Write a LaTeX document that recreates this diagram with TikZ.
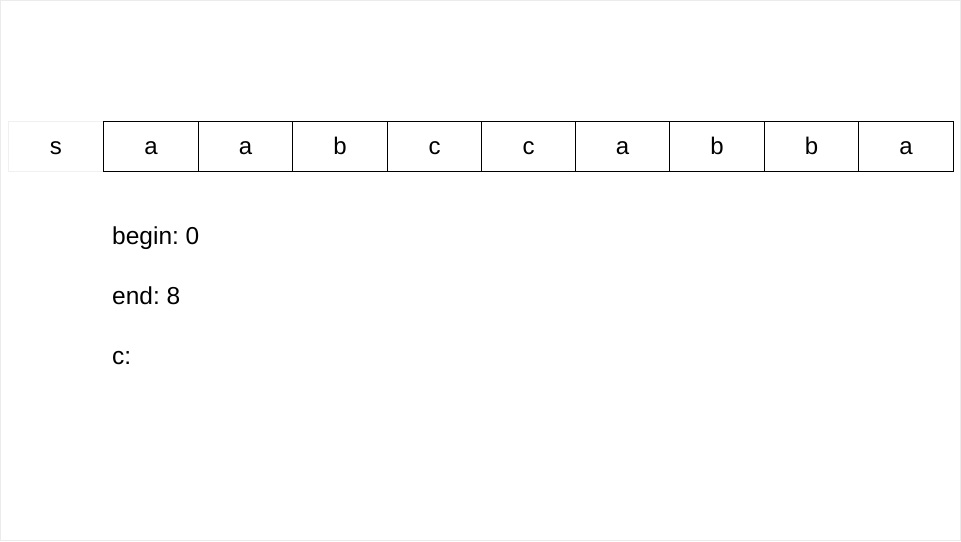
\documentclass[tikz,border=0pt]{standalone}
\usepackage{fontspec}
\setmainfont{Liberation Sans}
\frenchspacing
\begin{document}
\begin{tikzpicture}[x=1pt,y=-1pt,
  cellfont/.style={font=\fontsize{24}{28}\selectfont,text height=17pt,text depth=0pt},
  cellbox/.style={cellfont,draw=black,line width=1pt,minimum height=49.5pt,inner sep=0pt,anchor=north west},
  ghostbox/.style={cellfont,draw={rgb,255:red,240;green,240;blue,240},line width=1pt,minimum width=94.5pt,minimum height=49.5pt,inner sep=0pt,anchor=north west},
  infotext/.style={anchor=base west,inner sep=0pt,font=\fontsize{24.5}{28}\selectfont}]
\useasboundingbox (0,0) rectangle (961,541);
\draw[draw={rgb,255:red,235;green,235;blue,235},line width=1pt] (0.5,0.5) rectangle (960.5,540.5);
\node[ghostbox] (s) at (8,121) {s};
\foreach \t/\xa/\xb [count=\i from 0] in {a/103.5/198.5,a/198.5/292.5,b/292.5/387.5,c/387.5/481.5,c/481.5/575.5,a/575.5/669.5,b/669.5/764.5,b/764.5/858.5,a/858.5/953.5}{
  \pgfmathsetmacro\w{\xb-\xa}
  \node[cellbox,minimum width=\w pt] (c\i) at (\xa-0.5,121) {\t};
}
\node[infotext] (begin) at (112,244) {begin: 0};
\node[infotext] (end) at (112,304) {end: 8};
\node[infotext] (cc) at (112,364) {c:};
\end{tikzpicture}
\end{document}
